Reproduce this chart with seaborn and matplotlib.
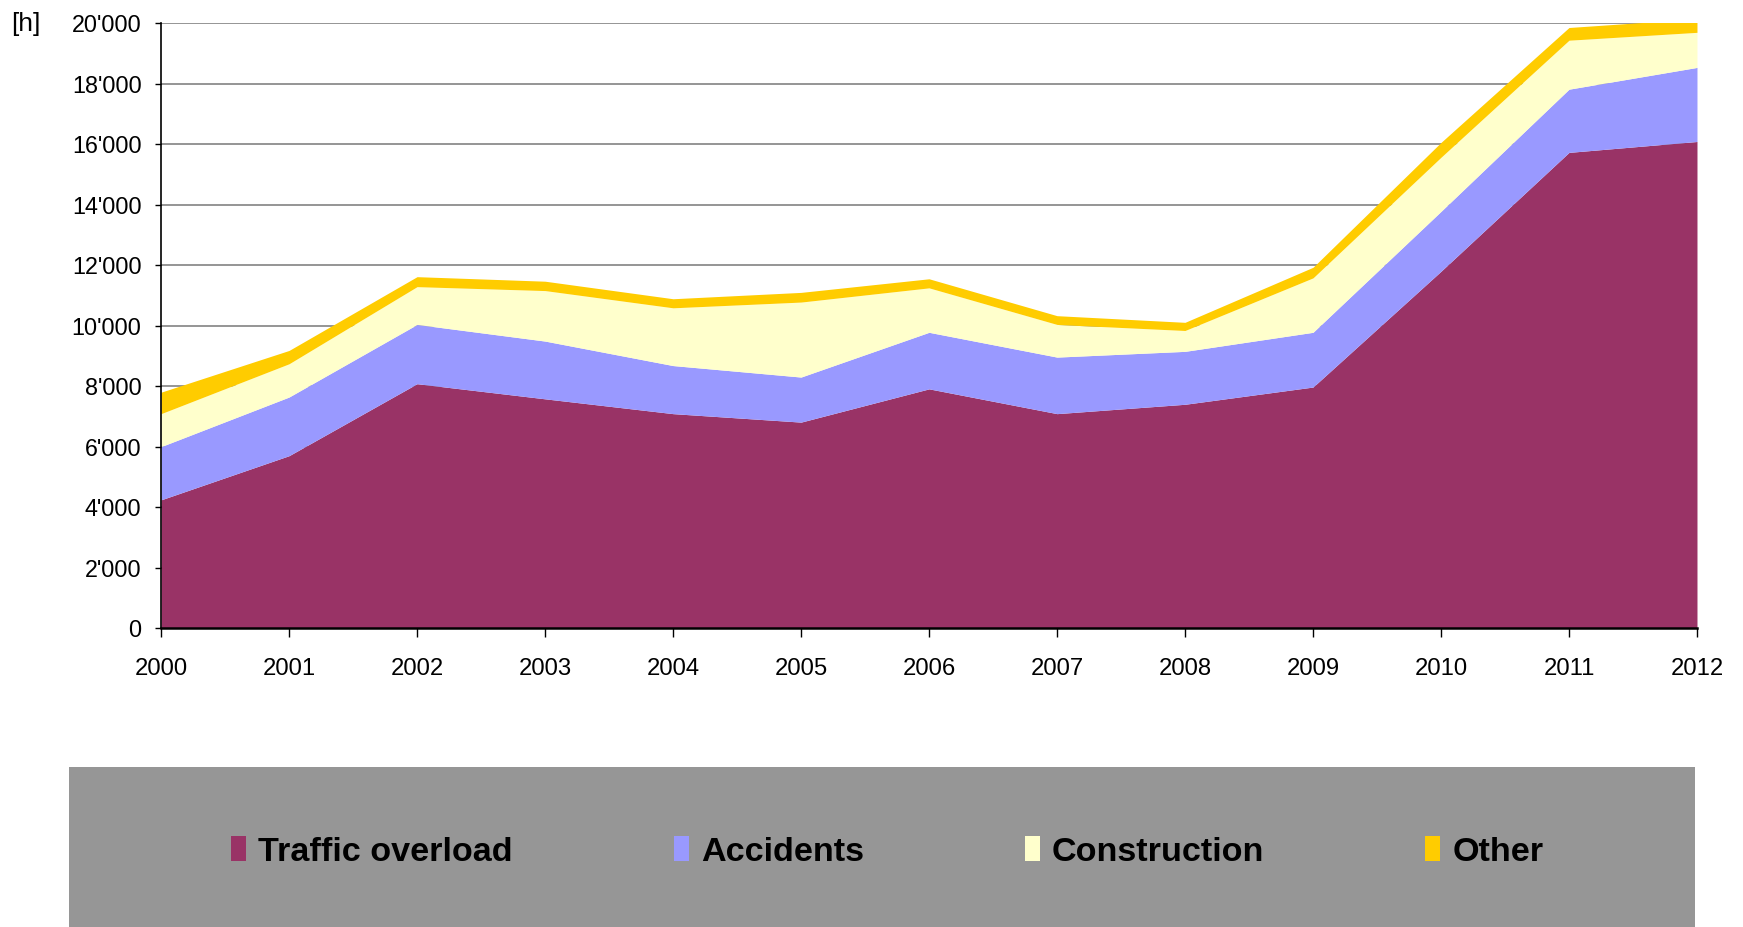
import matplotlib
matplotlib.use("Agg")
import matplotlib.pyplot as plt
from matplotlib import font_manager
from matplotlib.patches import Rectangle, Patch
from matplotlib.ticker import FuncFormatter, MultipleLocator
import seaborn as sns

years = [2000, 2001, 2002, 2003, 2004, 2005, 2006, 2007, 2008, 2009, 2010, 2011, 2012]
traffic = [4240, 5700, 8080, 7580, 7090, 6810, 7910, 7090, 7400, 7970, 11800, 15730, 16090]
accidents = [1760, 1940, 1960, 1910, 1590, 1490, 1870, 1870, 1750, 1810, 1980, 2090, 2450]
construction = [1090, 1100, 1250, 1670, 1910, 2480, 1470, 1080, 690, 1800, 1790, 1620, 1160]
other = [710, 440, 330, 310, 300, 320, 300, 290, 270, 350, 490, 420, 450]

labels = ["Traffic overload", "Accidents", "Construction", "Other"]
colors = ["#993366", "#9999FF", "#FFFFCC", "#FFCC00"]

sns.set_theme(style="white")

# narrow Arial-like face if we have it
names = {f.name for f in font_manager.fontManager.ttflist}
if "Liberation Sans Narrow" in names:
    FONT, k = "Liberation Sans Narrow", 1.0
else:
    FONT, k = "Liberation Sans", 0.82
plt.rcParams["font.family"] = [FONT, "DejaVu Sans"]
plt.rcParams["text.color"] = "black"
plt.rcParams["xtick.color"] = "black"
plt.rcParams["ytick.color"] = "black"

fig = plt.figure(figsize=(17.43, 9.27), dpi=100)
ax = fig.add_axes([0.0924, 0.3225, 0.9736 - 0.0924, 0.9749 - 0.3225])

ax.stackplot(years, traffic, accidents, construction, other,
             colors=colors, linewidth=0, zorder=2)

ax.set_xlim(2000, 2012)
ax.set_ylim(0, 20000)
ax.xaxis.set_major_locator(MultipleLocator(1))
ax.yaxis.set_major_locator(MultipleLocator(2000))
ax.yaxis.set_major_formatter(FuncFormatter(lambda v, _: f"{int(v):,}".replace(",", "'")))

ax.grid(axis="y", color="#8c8c8c", linewidth=1.3, zorder=0)
ax.grid(axis="x", visible=False)
ax.set_axisbelow(True)

for s in ["top", "right"]:
    ax.spines[s].set_visible(False)
ax.spines["left"].set_color("black")
ax.spines["left"].set_linewidth(1.2)
ax.spines["bottom"].set_color("black")
ax.spines["bottom"].set_linewidth(1.8)
ax.spines["bottom"].set_zorder(5)

ax.tick_params(axis="y", direction="out", length=4, width=1, colors="black",
               pad=10, labelsize=20.5 * k, left=True)
ax.tick_params(axis="x", direction="out", length=6.5, width=1, colors="black",
               pad=15, labelsize=21 * k, bottom=True)

fig.text(0.0063, 1 - 12 / 927, "[h]", ha="left", va="top", fontsize=23 * k,
         color="black")

# grey legend panel under the chart
fig.patches.append(Rectangle((0.0396, 0), 0.9329, 0.1726, transform=fig.transFigure,
                             facecolor="#969696", edgecolor="none", zorder=0))
handles = [Patch(facecolor=c, edgecolor="none") for c in colors]
leg = fig.legend(handles, labels, loc="center", bbox_to_anchor=(0.509, 0.081),
                 ncol=4, frameon=False, prop={"weight": "bold", "size": 30 * k},
                 handlelength=0.45, handleheight=0.75, handletextpad=0.35,
                 columnspacing=4.7, labelcolor="black")

fig.savefig("out.png", dpi=100)
